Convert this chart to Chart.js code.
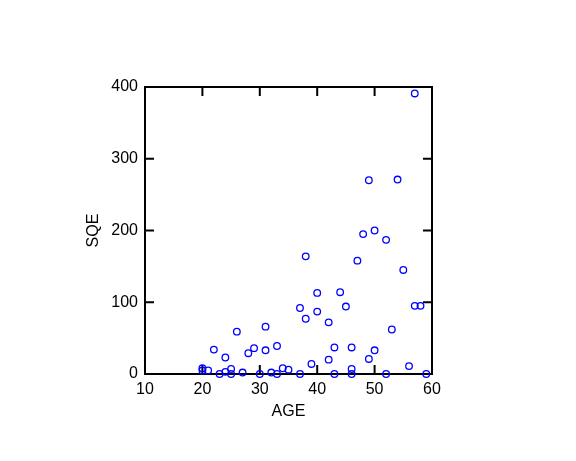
<!DOCTYPE html>
<html>
<head>
<meta charset="utf-8">
<script src="https://cdn.jsdelivr.net/npm/chart.js@4/dist/chart.umd.min.js"></script>
<style>
  html, body { margin: 0; padding: 0; background: #fff; }
  #chart { display: block; }
</style>
</head>
<body>
<canvas id="chart" width="576" height="461"></canvas>
<script>
// data
const age = [20, 20, 21, 22, 23, 24, 24, 25, 25, 26, 27, 28, 29, 30, 31, 31, 32, 33, 33, 34,
  35, 37, 37, 38, 38, 39, 40, 40, 42, 42, 43, 43, 44, 45, 46, 46, 46, 47, 48, 49,
  49, 50, 50, 52, 52, 53, 54, 55, 56, 57, 57, 58, 59];
const sqe = [8, 5, 5, 34, 0, 23, 3, 7, 0, 59, 2, 29, 36, 0, 66, 33, 2, 39, 0, 8,
  6, 92, 0, 164, 77, 14, 113, 87, 72, 20, 37, 0, 114, 94, 37, 7, 0, 158, 195, 270,
  21, 200, 33, 187, 0, 62, 271, 145, 11, 391, 95, 95, 0];

const xTicks = [10, 20, 30, 40, 50, 60];
const yTicks = [0, 100, 200, 300, 400];

// box frame with inward ticks on all four sides
const framePlugin = {
  id: "frame",
  beforeDatasetsDraw(chart) {
    const { ctx, chartArea: a, scales } = chart;
    const len = 9;
    ctx.save();
    ctx.strokeStyle = "#000";
    ctx.lineWidth = 2;
    ctx.strokeRect(a.left, a.top, a.right - a.left, a.bottom - a.top);
    ctx.beginPath();
    xTicks.forEach(v => {
      const px = scales.x.getPixelForValue(v);
      ctx.moveTo(px, a.bottom); ctx.lineTo(px, a.bottom - len);
      ctx.moveTo(px, a.top); ctx.lineTo(px, a.top + len);
    });
    yTicks.forEach(v => {
      const py = scales.y.getPixelForValue(v);
      ctx.moveTo(a.left, py); ctx.lineTo(a.left + len, py);
      ctx.moveTo(a.right, py); ctx.lineTo(a.right - len, py);
    });
    ctx.stroke();
    ctx.restore();
  }
};

const font = { family: "'Liberation Sans', Arial, sans-serif", size: 16 };

new Chart(document.getElementById("chart"), {
  type: "scatter",
  data: {
    datasets: [{
      data: age.map((a, i) => ({ x: a, y: sqe[i] })),
      pointRadius: 3.3,
      pointHoverRadius: 3.3,
      pointBorderWidth: 1.3,
      pointBackgroundColor: "rgba(0,0,0,0)",
      pointBorderColor: "#0000ff",
      clip: false
    }]
  },
  options: {
    responsive: false,
    animation: false,
    layout: { padding: { top: 87, right: 144, left: 0, bottom: 0 } },
    plugins: { legend: { display: false }, tooltip: { enabled: false } },
    scales: {
      x: {
        type: "linear",
        min: 10, max: 60,
        afterBuildTicks: s => { s.ticks = xTicks.map(v => ({ value: v })); },
        afterFit: s => { s.height = 87; },
        grid: { display: false, drawTicks: false },
        border: { display: false },
        ticks: { color: "#000", font, padding: 6, maxRotation: 0 },
        title: { display: true, text: "AGE", color: "#000", font, padding: { top: 0, bottom: 40 } }
      },
      y: {
        type: "linear",
        min: 0, max: 400,
        afterBuildTicks: s => { s.ticks = yTicks.map(v => ({ value: v })); },
        afterFit: s => { s.width = 145; },
        grid: { display: false, drawTicks: false },
        border: { display: false },
        ticks: { color: "#000", font, padding: 7 },
        title: { display: true, text: "SQE", color: "#000", font, padding: { top: 84, bottom: 0 } }
      }
    }
  },
  plugins: [framePlugin]
});
</script>
</body>
</html>
